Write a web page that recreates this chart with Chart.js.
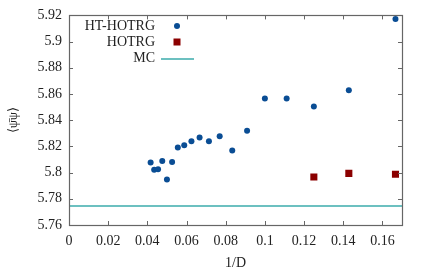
<!DOCTYPE html>
<html>
<head>
<meta charset="utf-8">
<script src="https://cdn.jsdelivr.net/npm/chart.js@4"></script>
<style>
  html, body { margin: 0; padding: 0; background: #fff; }
  #wrap { width: 424px; height: 277px; }
</style>
</head>
<body>
<div id="wrap"><canvas id="plot"></canvas></div>
<script>
// values
const htD = [24, 23, 22, 21, 20, 19, 18, 17, 16, 15, 14, 13, 12, 11, 10, 9, 8, 7, 6];
const htValues = [5.8078, 5.8022, 5.8025, 5.8088, 5.7947, 5.808, 5.8191, 5.8209, 5.8239, 5.8267,
                  5.8239, 5.8277, 5.8169, 5.832, 5.8565, 5.8565, 5.8505, 5.8629, 5.9172];
const hotrgD = [8, 7, 6];
const hotrgValues = [5.7966, 5.7994, 5.7987];
const mcValue = 5.7745;

const xTicks = [0, 0.02, 0.04, 0.06, 0.08, 0.1, 0.12, 0.14, 0.16];
const yTicks = [5.76, 5.78, 5.8, 5.82, 5.84, 5.86, 5.88, 5.9, 5.92];
const xMin = 0, xMax = 0.17;
const yMin = 5.76, yMax = 5.92;

const FONT = "'Liberation Serif', 'Times New Roman', Times, serif";
const BLUE = '#0a4d94';
const RED = '#8b0000';
const TEAL = '#6cc0c0';
const FRAME = '#666666';

const htPoints = htD.map((d, i) => ({ x: 1 / d, y: htValues[i] }));
const hotrgPoints = hotrgD.map((d, i) => ({ x: 1 / d, y: hotrgValues[i] }));
const mcPoints = [{ x: xMin, y: mcValue }, { x: xMax, y: mcValue }];

// gnuplot-like frame with inward ticks on all four sides
const framePlugin = {
    id: 'frame',
    afterDatasetsDraw(chart) {
        const { ctx, chartArea: a, scales } = chart;
        ctx.save();
        ctx.strokeStyle = FRAME;
        ctx.lineWidth = 1;
        ctx.beginPath();
        xTicks.forEach(v => {
            const px = Math.round(scales.x.getPixelForValue(v)) + 0.5;
            ctx.moveTo(px, a.bottom); ctx.lineTo(px, a.bottom - 4);
            ctx.moveTo(px, a.top); ctx.lineTo(px, a.top + 4);
        });
        yTicks.forEach(v => {
            const py = Math.round(scales.y.getPixelForValue(v)) + 0.5;
            ctx.moveTo(a.left, py); ctx.lineTo(a.left + 4, py);
            ctx.moveTo(a.right, py); ctx.lineTo(a.right - 4, py);
        });
        ctx.stroke();
        ctx.lineWidth = 1.2;
        ctx.strokeRect(Math.round(a.left) + 0.5, Math.round(a.top) + 0.5,
                       Math.round(a.right - a.left), Math.round(a.bottom - a.top));
        ctx.restore();
    }
};

// key in the top left corner: right-aligned text, sample to its right
const keyPlugin = {
    id: 'key',
    afterDraw(chart) {
        const ctx = chart.ctx;
        const textRight = 155, sampleX = 177, top = 26, step = 16;
        ctx.save();
        ctx.font = '14px ' + FONT;
        ctx.fillStyle = '#222';
        ctx.textAlign = 'right';
        ctx.textBaseline = 'middle';
        chart.data.datasets.forEach((ds, i) => {
            const y = top + i * step;
            ctx.fillText(ds.label, textRight, y);
            if (ds.type === 'line') {
                ctx.strokeStyle = ds.borderColor;
                ctx.lineWidth = ds.borderWidth;
                ctx.beginPath();
                ctx.moveTo(161, y + 1); ctx.lineTo(194, y + 1);
                ctx.stroke();
            } else if (ds.pointStyle === 'rect') {
                ctx.fillStyle = ds.backgroundColor;
                ctx.fillRect(sampleX - 3.5, y - 3.5, 7, 7);
                ctx.fillStyle = '#222';
            } else {
                ctx.fillStyle = ds.backgroundColor;
                ctx.beginPath();
                ctx.arc(sampleX, y, 3, 0, Math.PI * 2);
                ctx.fill();
                ctx.fillStyle = '#222';
            }
        });
        ctx.restore();
    }
};

new Chart(document.getElementById('plot'), {
    type: 'scatter',
    data: {
        datasets: [
            {
                label: 'HT-HOTRG',
                data: htPoints,
                pointStyle: 'circle',
                pointRadius: 3,
                pointHoverRadius: 3,
                backgroundColor: BLUE,
                borderColor: BLUE,
                borderWidth: 0
            },
            {
                label: 'HOTRG',
                data: hotrgPoints,
                pointStyle: 'rect',
                pointRadius: 5,
                pointHoverRadius: 5,
                backgroundColor: RED,
                borderColor: RED,
                borderWidth: 0
            },
            {
                type: 'line',
                label: 'MC',
                data: mcPoints,
                borderColor: TEAL,
                borderWidth: 2,
                pointRadius: 0,
                fill: false
            }
        ]
    },
    options: {
        responsive: true,
        maintainAspectRatio: false,
        animation: false,
        layout: { padding: { top: 14, right: 22, left: 0, bottom: 0 } },
        plugins: {
            legend: { display: false },
            tooltip: { enabled: false }
        },
        scales: {
            x: {
                type: 'linear',
                min: xMin,
                max: xMax,
                afterBuildTicks: s => { s.ticks = xTicks.map(v => ({ value: v })); },
                afterFit: s => { s.height = 52; },
                grid: { display: false, drawTicks: false },
                border: { display: false },
                ticks: {
                    padding: 8,
                    color: '#222',
                    font: { family: FONT, size: 14 },
                    maxRotation: 0,
                    callback: v => String(+v.toFixed(2))
                },
                title: {
                    display: true,
                    text: '1/D',
                    color: '#222',
                    font: { family: FONT, size: 14 },
                    padding: { top: 0, bottom: 5 }
                }
            },
            y: {
                type: 'linear',
                min: yMin,
                max: yMax,
                afterBuildTicks: s => { s.ticks = yTicks.map(v => ({ value: v })); },
                afterFit: s => { s.width = 69; },
                grid: { display: false, drawTicks: false },
                border: { display: false },
                ticks: {
                    padding: 7,
                    color: '#222',
                    font: { family: FONT, size: 14 },
                    callback: v => String(+v.toFixed(2))
                },
                title: {
                    display: true,
                    text: '⟨ψ̄ψ⟩',
                    color: '#222',
                    font: { family: FONT, size: 13 },
                    padding: { top: 6, bottom: 0 }
                }
            }
        }
    },
    plugins: [framePlugin, keyPlugin]
});
</script>
</body>
</html>
